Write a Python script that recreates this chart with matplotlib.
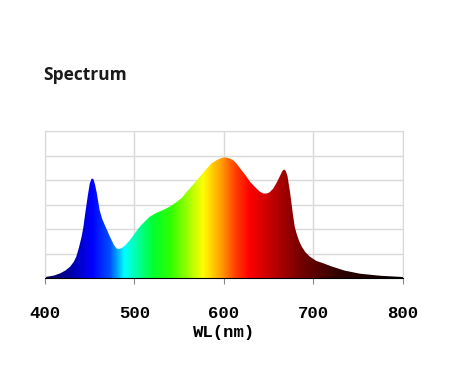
import matplotlib.pyplot as plt
import numpy as np
from matplotlib.colors import LinearSegmentedColormap

# spectrum (wavelength nm, relative intensity)
wl = [400, 402, 410, 417, 423, 428, 432, 435, 438, 441, 443, 445, 448, 450, 452,
      454, 456, 458, 461, 464, 467, 470, 473, 477, 480, 483, 486, 490, 495, 500,
      506, 512, 517, 524, 532, 540, 547, 553, 558, 564, 570, 575, 581, 586, 592,
      597, 601, 605, 610, 614, 618, 624, 629, 635, 640, 644, 648, 651, 655, 659,
      663, 665, 667, 669, 671, 674, 677, 679, 681, 684, 687, 691, 696, 703, 711,
      720, 735, 752, 775, 800]
val = [0.005, 0.01, 0.02, 0.038, 0.062, 0.092, 0.13, 0.174, 0.25, 0.34, 0.42, 0.53, 0.68, 0.77, 0.81,
       0.81, 0.76, 0.69, 0.555, 0.48, 0.43, 0.38, 0.33, 0.27, 0.24, 0.237, 0.245, 0.27, 0.31, 0.36,
       0.42, 0.465, 0.50, 0.53, 0.555, 0.585, 0.62, 0.655, 0.70, 0.75, 0.80, 0.845, 0.895, 0.935, 0.963,
       0.98, 0.985, 0.98, 0.963, 0.935, 0.895, 0.84, 0.786, 0.74, 0.705, 0.69, 0.69, 0.70, 0.73, 0.78,
       0.84, 0.87, 0.887, 0.875, 0.83, 0.69, 0.52, 0.42, 0.365, 0.30, 0.255, 0.21, 0.174, 0.14, 0.12,
       0.095, 0.06, 0.035, 0.018, 0.008]
xticks = [400, 500, 600, 700, 800]

# wavelength colour ramp
ramp = LinearSegmentedColormap.from_list('wl', [
    (0.0, '#0a0a50'), (0.07, '#0000a8'), (0.13, '#0000ff'), (0.18, '#0050ff'),
    (0.22, '#00ffff'), (0.30, '#00ff30'), (0.35, '#30ff00'), (0.44, '#ffff00'),
    (0.49, '#ffa000'), (0.53, '#ff4000'), (0.57, '#ff0000'), (0.65, '#b00000'),
    (0.72, '#700000'), (0.82, '#300000'), (1.0, '#000000')])

fig = plt.figure(figsize=(4.59, 3.73), dpi=100)
ax = fig.add_axes([0.098, 0.2547, 0.78, 0.394])

xs = np.linspace(400, 800, 800)
img = ax.imshow(xs[None, :], cmap=ramp, aspect='auto', extent=(400, 800, 0, 1.2),
                origin='lower', zorder=2)
poly = ax.fill_between(wl, 0, val, color='none', lw=0)
img.set_clip_path(poly.get_paths()[0], transform=ax.transData)

ax.set_xlim(400, 800)
ax.set_ylim(0, 1.2)
ax.set_xticks(xticks)
ax.set_yticks(np.arange(0, 1.21, 0.2))
ax.set_yticklabels([])
ax.tick_params(axis='y', length=0)
ax.tick_params(axis='x', length=4, color='#888888', pad=16)
ax.grid(True, color='#d9d9d9', lw=1)
ax.set_axisbelow(True)
for s in ['top', 'right', 'left']:
    ax.spines[s].set_color('#d9d9d9')
ax.spines['bottom'].set_color('#000000')
ax.spines['bottom'].set_zorder(3)

for lab in ax.get_xticklabels():
    lab.set_fontfamily('Liberation Mono')
    lab.set_fontweight('bold')
    lab.set_fontsize(12.5)
ax.set_xlabel('WL(nm)', family='Liberation Mono', weight='bold', fontsize=12.5, labelpad=3)

fig.text(0.094, 0.785, 'Spectrum', family='Open Sans', weight='bold', fontsize=12.5,
         color='#1a1a1a', va='baseline')

fig.savefig('out.png', dpi=100)
